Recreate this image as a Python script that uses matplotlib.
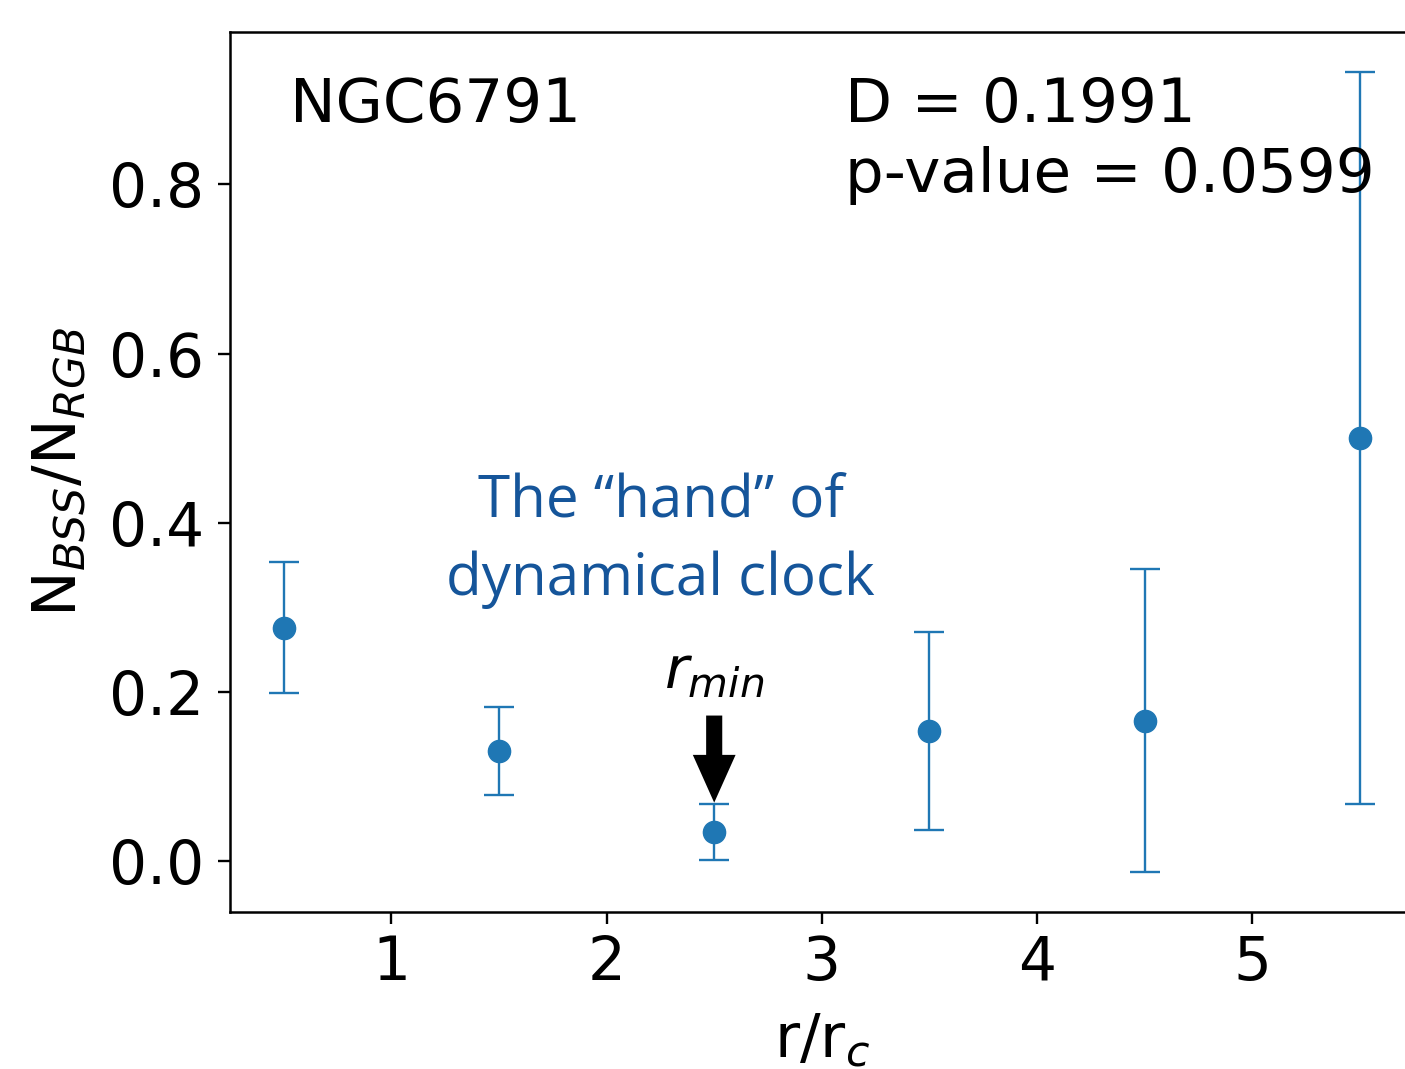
import matplotlib
matplotlib.use("Agg")
import matplotlib.pyplot as plt
from matplotlib.patches import ArrowStyle

# data
r_rc = [0.5, 1.5, 2.5, 3.5, 4.5, 5.5]
ratio = [0.276, 0.130, 0.034, 0.154, 0.166, 0.500]
err = [0.077, 0.052, 0.033, 0.117, 0.179, 0.433]
xticks = [1, 2, 3, 4, 5]
yticks = [0.0, 0.2, 0.4, 0.6, 0.8]

plt.rcParams['font.family'] = ['DejaVu Sans']
fig = plt.figure(figsize=(14.05, 10.69), dpi=100)
ax = fig.add_axes([230/1405, (1069-912)/1069, (1413.6-230)/1405, (912-32)/1069])

ax.errorbar(r_rc, ratio, yerr=err, fmt='o', color='#1f77b4', ms=16,
            elinewidth=1.7, capsize=11, capthick=1.7)

ax.set_xticks(xticks)
ax.set_yticks(yticks)
ax.set_yticklabels([f"{v:.1f}" for v in yticks])
ax.tick_params(axis='both', labelsize=43, length=8.5, width=1.7)
ax.tick_params(axis='y', pad=10)
ax.tick_params(axis='x', pad=7)
for s in ax.spines.values():
    s.set_linewidth(1.8)

ax.set_xlabel(r'r/r$_c$', fontsize=44, labelpad=14)
ax.set_ylabel(r'N$_{BSS}$/N$_{RGB}$', fontsize=44, labelpad=14)

ax.text(0.0507, 0.898, 'NGC6791', transform=ax.transAxes, fontsize=44,
        ha='left', va='baseline')
ax.text(0.5196, (912-122)/880, 'D = 0.1991', transform=ax.transAxes,
        fontsize=44, ha='left', va='baseline')
ax.text(0.5196, (912-192)/880, 'p-value = 0.0599', transform=ax.transAxes,
        fontsize=44, ha='left', va='baseline')

blue = '#15559a'
ax.text(0.364, (912-518)/880, 'The \u201chand\u201d of', transform=ax.transAxes,
        fontsize=42, family='Open Sans', color=blue,
        ha='center', va='baseline')
ax.text(0.364, (912-595)/880, 'dynamical clock', transform=ax.transAxes,
        fontsize=42, family='Open Sans', color=blue,
        ha='center', va='baseline')

ax.text(2.5, (862-688)/849, r'$r_{min}$', fontsize=42, ha='center', va='baseline')
ax.annotate('', xy=(2.5, 0.069), xytext=(2.5, 0.172),
            arrowprops=dict(arrowstyle=ArrowStyle.Simple(head_length=0.86, head_width=0.77, tail_width=0.29),
                            mutation_scale=40, color='black', shrinkA=0, shrinkB=0, lw=0))

fig.savefig('out.png', dpi=100)
